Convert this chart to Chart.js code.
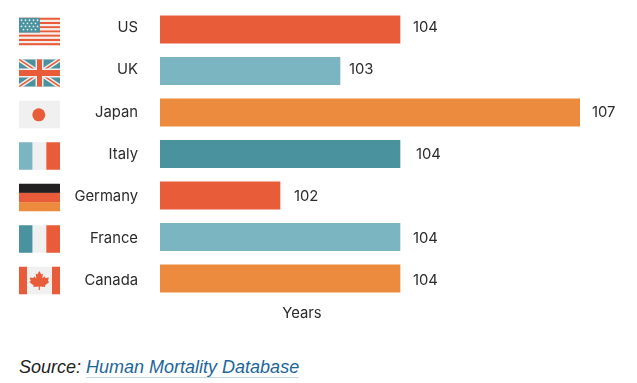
<!DOCTYPE html>
<html>
<head>
<meta charset="utf-8">
<style>
  body { margin: 0; background: #fff; }
  #wrap { position: relative; width: 637px; height: 383px; overflow: hidden; }
  #source {
    position: absolute; left: 19px; top: 357px;
    font: italic 18px "Liberation Sans", sans-serif; color: #222; white-space: nowrap;
  }
  #source a { color: #1c6698; text-decoration: none; border-bottom: 1px solid #c5d8e4; }
</style>
</head>
<body>
<div id="wrap">
  <canvas id="lifeChart" width="637" height="330"></canvas>
  <div id="source">Source: <a href="#">Human Mortality Database</a></div>
</div>
<script src="https://cdn.jsdelivr.net/npm/chart.js@4/dist/chart.umd.min.js"></script>
<script>
const countries = ["US", "UK", "Japan", "Italy", "Germany", "France", "Canada"];
const maxAge = [104, 103, 107, 104, 102, 104, 104];
const axisTitle = "Years";

const red = "#E85C3A";
const lightBlue = "#7BB5C2";
const orange = "#EC8B3E";
const teal = "#4A929D";
const paper = "#F0F0F0";
const black = "#222020";
const barColors = [red, lightBlue, orange, teal, red, lightBlue, orange];

// gap between bar end and its number, the original is not regular
const valueGaps = [13, 9, 12, 16, 14, 13, 13];
const textFont = '14.8px Inter, sans-serif';
const textColor = "#2b2b2b";

function stripes(ctx, x, y, w, h, colors, vertical) {
    colors.forEach((c, i) => {
        ctx.fillStyle = c;
        if (vertical) ctx.fillRect(x + w * i / colors.length, y, w / colors.length, h);
        else ctx.fillRect(x, y + h * i / colors.length, w, h / colors.length);
    });
}

const flags = {
    US(ctx, x, y, w, h) {
        for (let i = 0; i < 13; i++) {
            ctx.fillStyle = i % 2 ? "#F6EDEA" : red;
            ctx.fillRect(x, y + h * i / 13, w, h / 13);
        }
        ctx.fillStyle = teal;
        ctx.fillRect(x, y, w * 0.51, h * 0.54);
        ctx.fillStyle = "#E4EEF0";
        for (let r = 0; r < 4; r++) {
            for (let c = 0; c < (r % 2 ? 4 : 5); c++) {
                ctx.beginPath();
                ctx.arc(x + 2.5 + c * 4 + (r % 2 ? 2 : 0), y + 2.5 + r * 3.1, 0.9, 0, Math.PI * 2);
                ctx.fill();
            }
        }
    },
    UK(ctx, x, y, w, h) {
        ctx.save();
        ctx.beginPath();
        ctx.rect(x, y, w, h);
        ctx.clip();
        ctx.fillStyle = teal;
        ctx.fillRect(x, y, w, h);
        const diag = (x1, y1, x2, y2, color, width) => {
            ctx.strokeStyle = color;
            ctx.lineWidth = width;
            ctx.beginPath();
            ctx.moveTo(x1, y1);
            ctx.lineTo(x2, y2);
            ctx.stroke();
        };
        diag(x, y, x + w, y + h, paper, 4.5);
        diag(x + w, y, x, y + h, paper, 4.5);
        diag(x, y, x + w, y + h, red, 1.5);
        diag(x + w, y, x, y + h, red, 1.5);
        ctx.fillStyle = paper;
        ctx.fillRect(x + w / 2 - 4, y, 8, h);
        ctx.fillRect(x, y + h / 2 - 4.5, w, 9);
        ctx.fillStyle = red;
        ctx.fillRect(x + w / 2 - 2.5, y, 5, h);
        ctx.fillRect(x, y + h / 2 - 3, w, 6);
        ctx.restore();
    },
    Japan(ctx, x, y, w, h) {
        ctx.fillStyle = paper;
        ctx.fillRect(x, y, w, h);
        ctx.fillStyle = red;
        ctx.beginPath();
        ctx.arc(x + w / 2 - 0.7, y + h / 2 + 0.3, 6.5, 0, Math.PI * 2);
        ctx.fill();
    },
    Italy(ctx, x, y, w, h) { stripes(ctx, x, y, w, h, [lightBlue, paper, red], true); },
    Germany(ctx, x, y, w, h) { stripes(ctx, x, y, w, h, [black, red, orange], false); },
    France(ctx, x, y, w, h) { stripes(ctx, x, y, w, h, [teal, paper, red], true); },
    Canada(ctx, x, y, w, h) {
        ctx.fillStyle = paper;
        ctx.fillRect(x, y, w, h);
        ctx.fillStyle = red;
        ctx.fillRect(x, y, 8, h);
        ctx.fillRect(x + w - 8, y, 8, h);
        // maple leaf, half outline mirrored
        const half = [[0, -9], [2, -5.5], [3.6, -6.5], [3, -1.5], [5.2, -3.8], [6, -2], [9.6, -2.4],
            [8.6, 1], [10, 2], [5.6, 5.5], [6, 7], [0.6, 6.4], [0.6, 10]];
        const cx = x + w / 2 - 0.2, cy = y + h / 2 - 0.5;
        ctx.beginPath();
        half.forEach((p, i) => i ? ctx.lineTo(cx + p[0], cy + p[1]) : ctx.moveTo(cx + p[0], cy + p[1]));
        half.slice().reverse().forEach((p) => ctx.lineTo(cx - p[0], cy + p[1]));
        ctx.closePath();
        ctx.fill();
    },
};

const decorations = {
    id: "decorations",
    afterDatasetsDraw(chart) {
        const ctx = chart.ctx;
        const xScale = chart.scales.x;
        const yScale = chart.scales.y;
        ctx.save();
        ctx.font = textFont;
        ctx.textBaseline = "middle";
        countries.forEach((name, i) => {
            const yc = yScale.getPixelForValue(i);
            // text rows in the original drift down a little against the bars
            const textY = yc - 1.8 + i * 0.7;
            flags[name](ctx, 19, yc + 2 - 13.75, 41, 27.5);
            ctx.fillStyle = textColor;
            ctx.textAlign = "right";
            ctx.fillText(name, 138, textY);
            ctx.textAlign = "left";
            ctx.fillText(maxAge[i], xScale.getPixelForValue(maxAge[i]) + valueGaps[i], textY);
        });
        ctx.fillStyle = textColor;
        ctx.textAlign = "center";
        ctx.fillText(axisTitle, 302, 314);
        ctx.restore();
    },
};

new Chart(document.getElementById("lifeChart"), {
    type: "bar",
    data: {
        labels: countries,
        datasets: [{
            data: maxAge,
            backgroundColor: barColors,
            barThickness: 27.5,
        }],
    },
    options: {
        indexAxis: "y",
        responsive: false,
        animation: false,
        layout: { padding: { top: 8.75, right: 57, bottom: 30.75, left: 0 } },
        plugins: { legend: { display: false }, tooltip: { enabled: false } },
        scales: {
            x: { display: false, min: 100, max: 107 },
            y: {
                grid: { display: false, drawTicks: false },
                border: { display: false },
                afterFit(scale) {
                    scale.width = 160;
                    scale.paddingTop = 0;
                    scale.paddingBottom = 0;
                },
                ticks: { display: false },
            },
        },
    },
    plugins: [decorations],
});
</script>
</body>
</html>
